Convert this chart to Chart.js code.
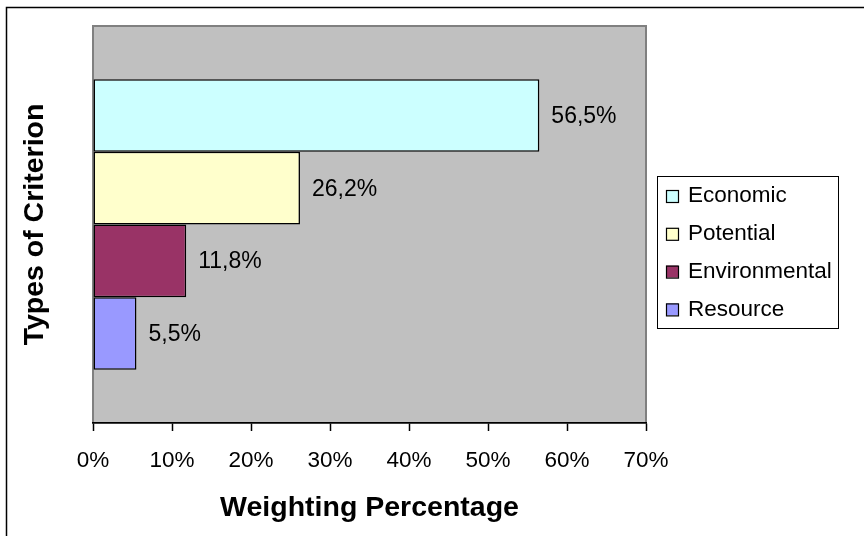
<!DOCTYPE html>
<html>
<head>
<meta charset="utf-8">
<script src="https://cdn.jsdelivr.net/npm/chart.js@4/dist/chart.umd.min.js"></script>
<style>
  html, body { margin: 0; padding: 0; background: #fff; }
  canvas { display: block; }
</style>
</head>
<body>
<canvas id="weightChart" width="864" height="536"></canvas>
<script>
// criterion types and weights (%)
const CRITERIA = ['Economic', 'Potential', 'Environmental', 'Resource'];
const WEIGHTS = [56.5, 26.2, 11.8, 5.5];
const BAR_COLORS = ['#ccffff', '#ffffcc', '#993366', '#9999ff'];
const X_TICKS = [0, 10, 20, 30, 40, 50, 60, 70];

const FONT = '"Liberation Sans", Arial, sans-serif';

// comma decimal, like the original
function formatWeight(v) {
  return v.toFixed(1).replace('.', ',') + '%';
}

// grey plot box + frame lines of the whole chart
const backdropPlugin = {
  id: 'backdrop',
  beforeDraw(chart) {
    const { ctx, chartArea: a } = chart;
    ctx.save();
    ctx.fillStyle = '#ffffff';
    ctx.fillRect(0, 0, chart.width, chart.height);
    ctx.fillStyle = '#c0c0c0';
    ctx.fillRect(a.left, a.top, a.right - a.left, a.bottom - a.top);
    ctx.strokeStyle = '#808080';
    ctx.lineWidth = 2;
    ctx.strokeRect(a.left, a.top, a.right - a.left, a.bottom - a.top);
    ctx.strokeStyle = '#000';
    ctx.lineWidth = 1.5;
    ctx.beginPath();
    ctx.moveTo(6.5, chart.height);
    ctx.lineTo(6.5, 7.5);
    ctx.lineTo(chart.width, 7.5);
    ctx.stroke();
    ctx.restore();
  },
};

// value labels right of each bar
const valueLabelPlugin = {
  id: 'valueLabels',
  afterDatasetsDraw(chart) {
    const { ctx } = chart;
    ctx.save();
    ctx.font = '23px ' + FONT;
    ctx.fillStyle = '#000';
    ctx.textAlign = 'left';
    ctx.textBaseline = 'middle';
    chart.data.datasets.forEach((ds, i) => {
      const bar = chart.getDatasetMeta(i).data[0];
      if (!bar) return;
      ctx.fillText(formatWeight(ds.data[0]), bar.x + 12, bar.y + 1);
    });
    ctx.restore();
  },
};

// boxed legend at the right, Excel style
const boxLegendPlugin = {
  id: 'boxLegend',
  afterDraw(chart) {
    const { ctx } = chart;
    const left = 657.5, top = 176.5, w = 181, h = 152;
    ctx.save();
    ctx.fillStyle = '#fff';
    ctx.fillRect(left, top, w, h);
    ctx.strokeStyle = '#000';
    ctx.lineWidth = 1;
    ctx.strokeRect(left, top, w, h);
    ctx.font = '22.5px ' + FONT;
    ctx.textBaseline = 'middle';
    ctx.textAlign = 'left';
    chart.data.datasets.forEach((ds, i) => {
      const cy = 195 + i * 37.8;
      ctx.fillStyle = ds.backgroundColor;
      ctx.fillRect(666, cy - 5, 12, 12);
      ctx.strokeStyle = '#000';
      ctx.lineWidth = 1.2;
      ctx.strokeRect(666.5, cy - 4.5, 12, 12);
      ctx.fillStyle = '#000';
      ctx.fillText(ds.label, 688, cy + 1);
    });
    ctx.restore();
  },
};

function renderWeightChart() {
  const canvas = document.getElementById('weightChart');
  if (!canvas || typeof Chart === 'undefined') return;

  const datasets = CRITERIA.map((name, i) => ({
    label: name,
    data: [WEIGHTS[i]],
    backgroundColor: BAR_COLORS[i],
    borderColor: '#000',
    borderWidth: 1.5,
    borderSkipped: false,
    categoryPercentage: 0.732,
    barPercentage: 1,
  }));

  new Chart(canvas.getContext('2d'), {
    type: 'bar',
    data: { labels: [''], datasets },
    plugins: [backdropPlugin, valueLabelPlugin, boxLegendPlugin],
    options: {
      indexAxis: 'y',
      responsive: false,
      animation: false,
      layout: { padding: { left: 0, top: 26, right: 218, bottom: 0 } },
      plugins: {
        legend: { display: false },
        tooltip: { enabled: false },
      },
      scales: {
        x: {
          min: 0,
          max: 70,
          afterFit: (scale) => { scale.height = 113; },
          afterBuildTicks: (scale) => {
            scale.ticks = X_TICKS.map((v) => ({ value: v }));
          },
          grid: {
            drawOnChartArea: false,
            drawTicks: true,
            tickLength: 8,
            tickColor: '#000',
            tickWidth: 1.5,
          },
          border: { display: true, color: '#000', width: 1.5 },
          ticks: {
            color: '#000',
            padding: 16,
            font: { family: FONT, size: 22.5 },
            callback: (v) => v + '%',
          },
          title: {
            display: true,
            text: 'Weighting Percentage',
            color: '#000',
            font: { family: FONT, size: 28.5, weight: 'bold' },
            padding: { top: 0, bottom: 11 },
          },
        },
        y: {
          afterFit: (scale) => { scale.width = 93; },
          grid: { display: false },
          border: { display: false },
          ticks: { display: false },
          title: {
            display: true,
            text: 'Types of Criterion',
            color: '#000',
            font: { family: FONT, size: 28.5, weight: 'bold' },
            padding: { top: 18, bottom: 0 },
          },
        },
      },
    },
  });
}

document.addEventListener('DOMContentLoaded', renderWeightChart);
</script>
</body>
</html>
